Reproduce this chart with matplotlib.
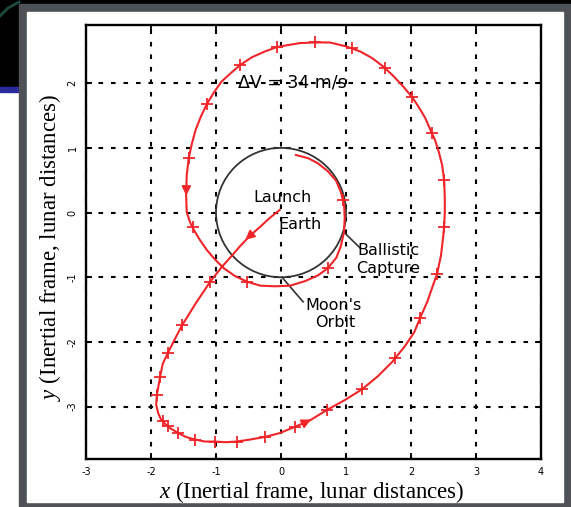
import numpy as np
import matplotlib
matplotlib.use("Agg")
import matplotlib.pyplot as plt
from matplotlib.patches import Rectangle, Circle

plt.rcParams["mathtext.fontset"] = "custom"
plt.rcParams["mathtext.it"] = "Liberation Serif:italic"
plt.rcParams["mathtext.rm"] = "Liberation Serif"

# trajectory (lunar distances), in flight order
traj_x = [-0.02, -0.17, -0.32, -0.48, -0.63, -0.75, -0.91, -1.09, -1.31, -1.52,
          -1.63, -1.74, -1.82, -1.86, -1.91, -1.92, -1.89, -1.85, -1.78, -1.71,
          -1.58, -1.46, -1.32, -1.17, -1.02, -0.85, -0.68, -0.48, -0.25, -0.02,
          0.22, 0.45, 0.71, 0.98, 1.25, 1.49, 1.71, 1.91, 2.05, 2.14,
          2.25, 2.34, 2.40, 2.46, 2.49, 2.51, 2.52, 2.52, 2.51, 2.48,
          2.43, 2.37, 2.32, 2.22, 2.12, 2.02, 1.88, 1.72, 1.57, 1.40,
          1.22, 1.00, 0.75, 0.52, 0.29, 0.11, -0.06, -0.25, -0.45, -0.63,
          -0.78, -0.92, -1.03, -1.14, -1.23, -1.31, -1.37, -1.42, -1.45, -1.46,
          -1.45, -1.40, -1.34, -1.25, -1.14, -1.02, -0.88, -0.71, -0.52, -0.32,
          -0.09, 0.14, 0.37, 0.57, 0.72, 0.85, 0.92, 0.97, 0.98, 0.97,
          0.92, 0.85, 0.72, 0.57, 0.42, 0.23]
traj_y = [0.04, -0.08, -0.22, -0.36, -0.52, -0.66, -0.84, -1.07, -1.40, -1.74,
          -1.95, -2.17, -2.34, -2.54, -2.82, -2.97, -3.10, -3.19, -3.27, -3.33,
          -3.41, -3.47, -3.51, -3.54, -3.54, -3.55, -3.54, -3.51, -3.47, -3.41,
          -3.31, -3.21, -3.05, -2.90, -2.73, -2.53, -2.31, -2.06, -1.85, -1.63,
          -1.38, -1.12, -0.95, -0.67, -0.42, -0.22, 0.01, 0.22, 0.50, 0.73,
          0.93, 1.12, 1.23, 1.46, 1.63, 1.78, 1.95, 2.12, 2.26, 2.39,
          2.49, 2.57, 2.63, 2.63, 2.62, 2.59, 2.56, 2.49, 2.40, 2.28,
          2.15, 2.02, 1.86, 1.68, 1.49, 1.29, 1.07, 0.84, 0.58, 0.27,
          0.01, -0.15, -0.27, -0.42, -0.58, -0.72, -0.86, -0.98, -1.07, -1.13,
          -1.14, -1.13, -1.06, -0.97, -0.86, -0.70, -0.52, -0.30, -0.08, 0.12,
          0.32, 0.49, 0.64, 0.76, 0.84, 0.89]

# tick marks (one per day) along the path
mark_x = [-1.09, -1.52, -1.74, -1.86, -1.91, -1.82, -1.74, -1.58, -1.32, -1.02,
          -0.68, -0.25, 0.22, 0.71, 1.25, 1.75, 2.14, 2.40, 2.51, 2.51,
          2.32, 2.02, 1.60, 1.09, 0.52, -0.06, -0.63, -1.14, -1.42, -1.36,
          -0.52, 0.72, 0.95]
mark_y = [-1.07, -1.74, -2.17, -2.54, -2.82, -3.23, -3.30, -3.41, -3.51, -3.54,
          -3.54, -3.47, -3.31, -3.05, -2.73, -2.25, -1.63, -0.95, -0.22, 0.50,
          1.23, 1.78, 2.23, 2.54, 2.63, 2.56, 2.28, 1.68, 0.84, -0.22,
          -1.07, -0.86, 0.20]

# arrow heads: (tail, tip)
arrows = [((-0.40, -0.29), (-0.58, -0.45)),
          ((-1.455, 0.45), (-1.46, 0.22)),
          ((0.30, -3.28), (0.50, -3.18))]

x_ticks = [-3, -2, -1, 0, 1, 2, 3, 4]
y_ticks = [-3, -2, -1, 0, 1, 2]

W, H = 571, 507
fig = plt.figure(figsize=(W / 100, H / 100), dpi=100, facecolor="black")


def px_rect(x0, y0, x1, y1, color):
    fig.patches.append(Rectangle((x0 / W, 1 - y1 / H), (x1 - x0) / W, (y1 - y0) / H,
                                 transform=fig.transFigure, color=color, zorder=-10))


# slide background bits
px_rect(0, 92, 19, 507, "white")
px_rect(0, 87, 19, 92, "#2b2b9c")
px_rect(19, 4, 571, 507, "#4e5257")
px_rect(27, 12, 563, 502, "white")
fig.lines.append(plt.Line2D([0 / W, 8 / W, 19 / W], [1 - 16 / H, 1 - 8 / H, 1 - 2 / H],
                            transform=fig.transFigure, color="#1c4a3c", lw=2, zorder=-9))

ax = fig.add_axes([86 / W, 1 - 459 / H, 455 / W, 434 / H])
ax.set_zorder(5)
ax.set_xlim(-3, 4)
ax.set_ylim(-3.81, 2.9)

ax.grid(True, color="k", linestyle=(0, (2.2, 3.8)), linewidth=1.5)
ax.set_axisbelow(True)
ax.set_xticks(x_ticks)
ax.set_yticks(y_ticks)
ax.set_xticklabels([str(v) for v in x_ticks], fontsize=7)
ax.set_yticklabels([str(v) for v in y_ticks], fontsize=7, rotation=90, va="center")
ax.tick_params(direction="in", length=4, width=1.3, top=True, right=True, pad=6)
for s in ax.spines.values():
    s.set_linewidth(1.7)

# moon orbit
ax.add_patch(Circle((0, 0), 1, fill=False, color="#333333", lw=1.3, zorder=3))

ax.plot(traj_x, traj_y, color="#f0252a", lw=1.5, zorder=4)
ax.plot(mark_x, mark_y, "+", color="#f0252a", ms=8, mew=1.3, zorder=4)
for tail, tip in arrows:
    ax.annotate("", xy=tip, xytext=tail,
                arrowprops=dict(arrowstyle="-|>", color="#f0252a", lw=1.2,
                                mutation_scale=14), zorder=5)

# leader lines
ax.plot([0.985, 1.22], [-0.32, -0.55], color="#333333", lw=1.2, zorder=3)
ax.plot([0.015, 0.34], [-1.0, -1.38], color="#333333", lw=1.2, zorder=3)

ax.text(0.17, 2.01, "ΔV = 34 m/s", fontsize=12.5, ha="center", va="center", zorder=6)
ax.text(0.02, 0.24, "Launch", fontsize=11.5, ha="center", va="center", zorder=6)
ax.text(0.29, -0.19, "Earth", fontsize=11.5, ha="center", va="center", zorder=6)
ax.text(1.17, -0.58, "Ballistic", fontsize=11.5, ha="left", va="center", zorder=6)
ax.text(1.16, -0.86, "Capture", fontsize=11.5, ha="left", va="center", zorder=6)
ax.text(0.37, -1.43, "Moon's", fontsize=11.5, ha="left", va="center", zorder=6)
ax.text(0.53, -1.70, "Orbit", fontsize=11.5, ha="left", va="center", zorder=6)

fig.text(312 / W, 1 - 492 / H, r"$x$ (Inertial frame, lunar distances)",
         family="Liberation Serif", fontsize=16.5, ha="center", va="center")
fig.text(50 / W, 1 - 247 / H, r"$y$ (Inertial frame, lunar distances)",
         family="Liberation Serif", fontsize=16.5, ha="center", va="center", rotation=90)

fig.savefig("out.png", dpi=100, facecolor=fig.get_facecolor())
